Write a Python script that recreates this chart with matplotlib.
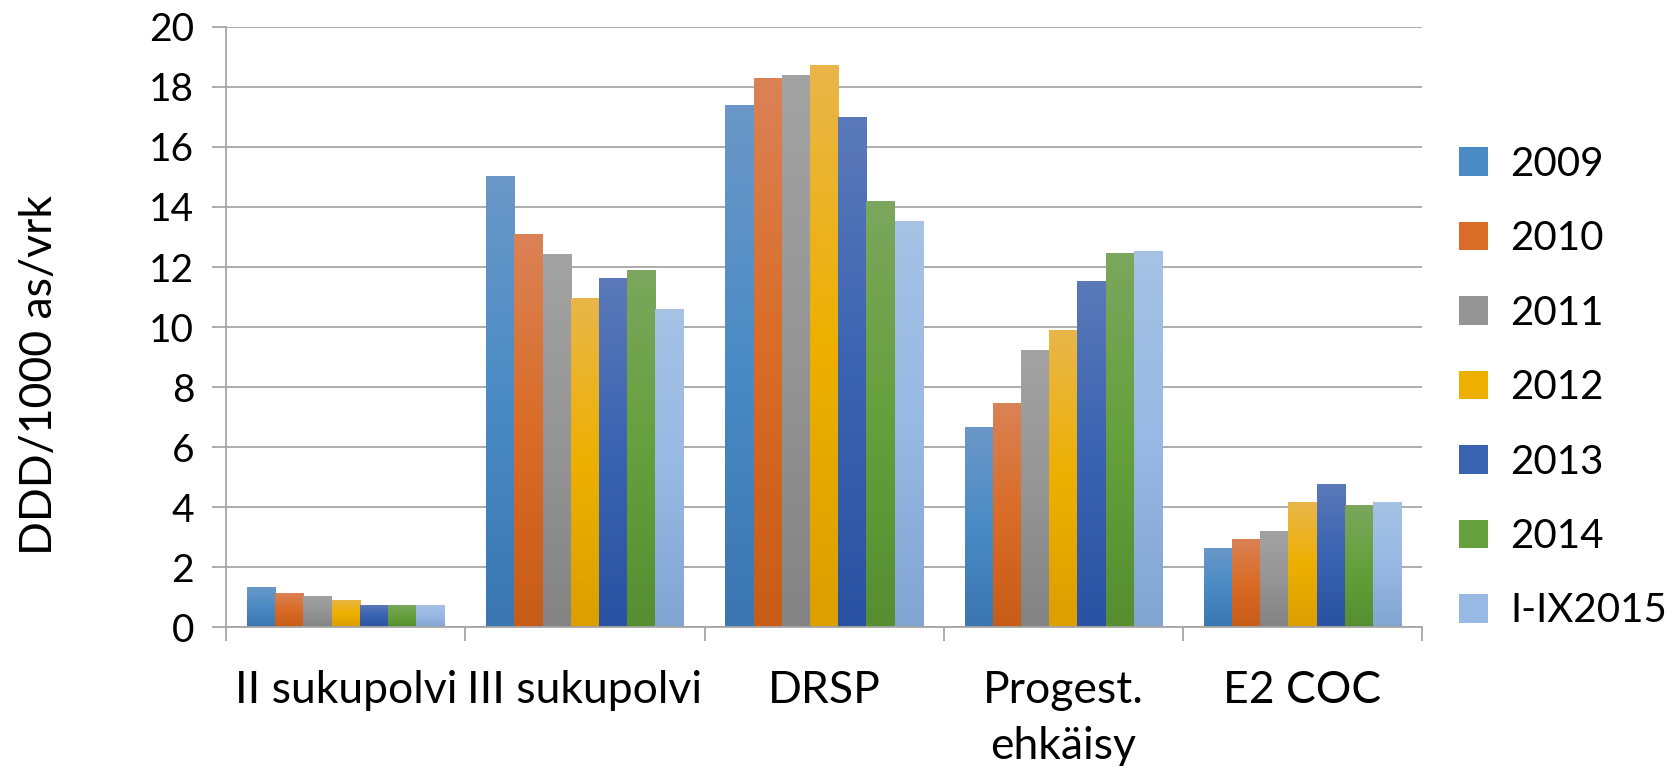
import numpy as np
import matplotlib
matplotlib.use('Agg')
from matplotlib import pyplot as plt
from matplotlib.colors import LinearSegmentedColormap
from matplotlib.patches import Patch

categories = ['II sukupolvi', 'III sukupolvi', 'DRSP', 'Progest.\nehkäisy', 'E2 COC']
series = ['2009', '2010', '2011', '2012', '2013', '2014', 'I-IX2015']
values = {
    '2009':     [1.33, 15.04, 17.39, 6.67, 2.65],
    '2010':     [1.14, 13.10, 18.29, 7.47, 2.95],
    '2011':     [1.04, 12.43, 18.39, 9.25, 3.22],
    '2012':     [0.90, 10.96, 18.72, 9.89, 4.16],
    '2013':     [0.74, 11.63, 17.01, 11.53, 4.79],
    '2014':     [0.74, 11.89, 14.21, 12.46, 4.09],
    'I-IX2015': [0.74, 10.61, 13.53, 12.53, 4.19],
}
# bottom, middle, top of the gradient
colors = {
    '2009':     ['#3b76b1', '#4a8bc5', '#6b98c8'],
    '2010':     ['#c75c18', '#d96c26', '#db8256'],
    '2011':     ['#838383', '#959595', '#a3a3a3'],
    '2012':     ['#dc9e00', '#edb000', '#e9b64a'],
    '2013':     ['#2a52a2', '#3a63b1', '#5b79b9'],
    '2014':     ['#568e30', '#66a03c', '#7ba75e'],
    'I-IX2015': ['#82a4d1', '#98b9e3', '#a6c2e5'],
}

grid_col = '#a6a6a6'
font = ['Lato', 'DejaVu Sans']
plt.rcParams['font.family'] = font

fig = plt.figure(figsize=(16.75, 7.66), dpi=100)
ax = fig.add_axes([0.135, 0.181, 0.714, 0.784])

x = np.arange(len(categories))
width = 0.118
grad = np.linspace(0, 1, 256).reshape(-1, 1)
handles = []
for i, s in enumerate(series):
    off = (i - (len(series) - 1) / 2) * width
    bars = ax.bar(x + off, values[s], width, color='none', edgecolor='none', zorder=2)
    cmap = LinearSegmentedColormap.from_list(s, colors[s])
    for rect in bars:
        x0, y0 = rect.get_x(), rect.get_y()
        w, h = rect.get_width(), rect.get_height()
        im = ax.imshow(grad, extent=[x0, x0 + w, y0, y0 + h], origin='lower',
                       aspect='auto', cmap=cmap, zorder=2, interpolation='bilinear')
        im.set_clip_path(rect)
    handles.append(Patch(facecolor=colors[s][1], label=s))

ax.set_xlim(-0.5, len(categories) - 0.5)
ax.set_ylim(0, 20)
ax.set_yticks(np.arange(0, 21, 2))
ax.yaxis.grid(True, color=grid_col, linewidth=1.3)
ax.set_axisbelow(True)

ax.set_xticks(np.arange(-0.5, len(categories), 1))
ax.set_xticklabels([])
ax.set_xticks(x, minor=True)
ax.set_xticklabels(categories, minor=True, fontsize=32, linespacing=1.45)
ax.tick_params(axis='x', which='major', direction='out', length=10, width=1.3, color=grid_col)
ax.tick_params(axis='x', which='minor', length=0, pad=31)
ax.tick_params(axis='y', direction='out', length=10, width=1.3, color=grid_col,
               labelsize=28, pad=13)

for side in ['top', 'right']:
    ax.spines[side].set_visible(False)
for side in ['left', 'bottom']:
    ax.spines[side].set_color(grid_col)
    ax.spines[side].set_linewidth(1.3)

fig.text(40 / 1675, 1 - 375 / 766, 'DDD/1000 as/vrk', rotation=90,
         ha='center', va='center', fontsize=32)

fig.legend(handles=handles, loc='center left', bbox_to_anchor=(0.871, 0.494),
           frameon=False, fontsize=29, handlelength=0.72, handleheight=0.72,
           handletextpad=0.55, labelspacing=0.93, borderpad=0, borderaxespad=0)

fig.savefig('out.png', dpi=100)
